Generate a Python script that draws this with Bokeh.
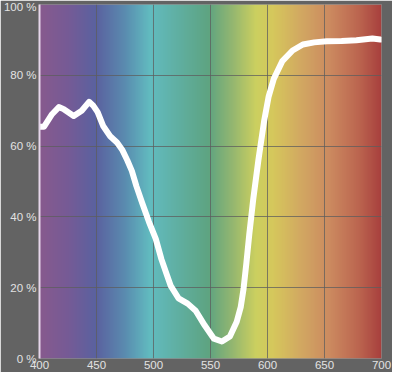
import numpy as np
from bokeh.plotting import figure
from bokeh.models import FixedTicker, Range1d
from bokeh.embed import file_html
from bokeh.resources import INLINE

# Transmission curve (wavelength nm, percent)
wavelength = [400, 404, 411, 417, 421, 430, 437, 443.5, 447, 451, 456, 462, 468, 472.5,
              477, 481, 485, 490, 496, 502, 507, 512, 515, 522, 530, 537, 545, 553,
              560, 567, 573, 576.5, 579, 581.5, 584, 587.5, 592, 597, 601, 605.5,
              613, 622, 631, 641, 652, 665, 678, 692, 699]
transmission = [65.5, 65.5, 69, 71, 70.5, 68.5, 70, 72.5, 71.5, 69.6, 65.6, 62.8, 61, 59,
                56, 53, 48.7, 44, 38.6, 33.8, 28, 23.4, 20.6, 17, 15.5, 13.5, 9.3, 5.6,
                4.8, 6.2, 10.4, 14.5, 19.7, 27, 35, 45, 56, 67, 74, 79,
                84, 87, 88.7, 89.3, 89.6, 89.7, 89.9, 90.4, 90.1]

# Spectrum background colour stops
spec_nm = [400, 425, 450, 475, 497, 520, 548, 570, 590, 605, 630, 655, 680, 700]
spec_col = ["#885a8e", "#765b96", "#5a62a0", "#5a8cb0", "#62bcc0", "#60b0a4", "#5ea482",
            "#96b870", "#ccd060", "#d6c85c", "#d2a862", "#cc8a60", "#bc6650", "#a8403e"]

x_ticks = [400, 450, 500, 550, 600, 650, 700]
y_ticks = [0, 20, 40, 60, 80, 100]

BG = "#636363"
TXT = "#e2e2e2"

p = figure(width=392, height=372, output_backend="svg", toolbar_location=None,
           x_range=Range1d(x_ticks[0], x_ticks[-1]), y_range=Range1d(y_ticks[0], y_ticks[-1]),
           background_fill_color=BG, border_fill_color=BG, outline_line_color=None,
           min_border_left=26, min_border_right=11, min_border_top=4, min_border_bottom=14)

# spectrum image
cols = np.linspace(spec_nm[0], spec_nm[-1], 600)
rgb = np.array([[int(c[i:i + 2], 16) for i in (1, 3, 5)] for c in spec_col], dtype=float)
r = np.interp(cols, spec_nm, rgb[:, 0])
g = np.interp(cols, spec_nm, rgb[:, 1])
b = np.interp(cols, spec_nm, rgb[:, 2])
img = np.zeros((2, len(cols)), dtype=np.uint32)
view = img.view(dtype=np.uint8).reshape((2, len(cols), 4))
for row in range(2):
    view[row, :, 0] = r.astype(np.uint8)
    view[row, :, 1] = g.astype(np.uint8)
    view[row, :, 2] = b.astype(np.uint8)
    view[row, :, 3] = 255
p.image_rgba(image=[img], x=spec_nm[0], y=y_ticks[0], dw=spec_nm[-1] - spec_nm[0],
             dh=y_ticks[-1] - y_ticks[0], level="image")

p.line(wavelength, transmission, line_color="white", line_width=6,
       line_join="round", line_cap="round")

p.xaxis.ticker = FixedTicker(ticks=x_ticks)
p.yaxis.ticker = FixedTicker(ticks=y_ticks)
p.yaxis.major_label_overrides = {t: f"{t} %" for t in y_ticks}

for ax in (p.xaxis[0], p.yaxis[0]):
    ax.major_tick_line_color = None
    ax.minor_tick_line_color = None
    ax.major_tick_out = 0
    ax.major_tick_in = 0
    ax.minor_tick_out = 0
    ax.minor_tick_in = 0
    ax.major_label_text_color = TXT
    ax.major_label_text_font = "Liberation Sans"
    ax.major_label_text_font_size = "11.5px"
    ax.major_label_standoff = 3
p.xaxis.major_label_standoff = 2
p.xaxis.axis_line_color = None
p.yaxis.axis_line_color = "#e6d6ea"
p.yaxis.axis_line_width = 2

p.grid.grid_line_color = "#5e5e5e"
p.grid.grid_line_alpha = 0.75
p.grid.grid_line_width = 1

open("out.html", "w").write(file_html(p, INLINE))
